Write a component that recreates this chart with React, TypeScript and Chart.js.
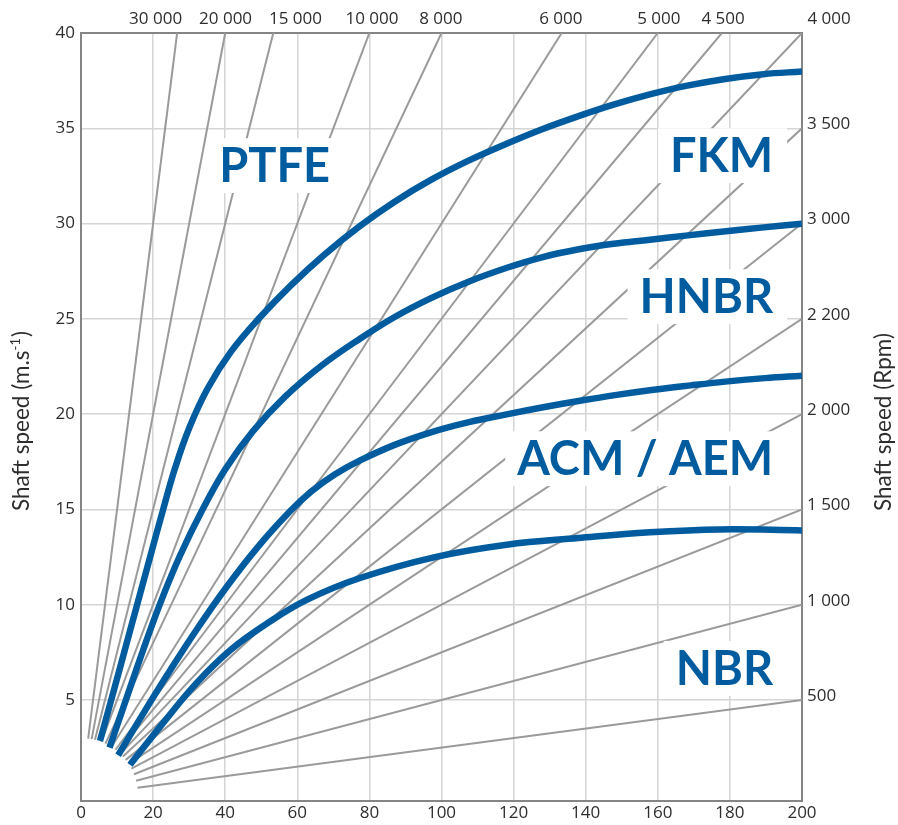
import React, { useEffect, useRef } from 'react';
import { Chart, registerables } from 'chart.js';

Chart.register(...registerables);

// ---------- data ----------
const xTicks = [0, 20, 40, 60, 80, 100, 120, 140, 160, 180, 200];
const yTicks = [5, 10, 15, 20, 25, 30, 35, 40];

// constant-rpm rays (schematic: v = d * n / 20000)
const rpmLines = [30000, 20000, 15000, 10000, 8000, 6000, 5000, 4500, 4000, 3500, 3000, 2500, 2000, 1500, 1000, 500];

// top axis (rpm labels of rays leaving through the top)
const topLabels = ['30 000', '20 000', '15 000', '10 000', '8 000', '6 000', '5 000', '4 500', '4 000'];
const topLabelPos = [20.7, 40.1, 59.5, 80.7, 99.8, 133.1, 160.3, 178.1, 207.5];

// right axis (rpm labels of rays leaving through the right edge)
const rightLabels = ['500', '1 000', '1 500', '2 000', '2 200', '3 000', '3 500'];
const rightLabelPos = [5, 10, 15, 20, 25, 30, 35];

// limit curves (x = shaft diameter, y = shaft speed m/s)
const curvePTFE = [
  { x: 5.27, y: 2.85 }, { x: 8.38, y: 5.0 }, { x: 11.96, y: 7.49 }, { x: 15.56, y: 9.99 },
  { x: 19.14, y: 12.48 }, { x: 22.75, y: 14.97 }, { x: 26.07, y: 17.16 }, { x: 30.1, y: 19.31 },
  { x: 35.2, y: 21.37 }, { x: 41.66, y: 23.29 }, { x: 49.4, y: 25.03 }, { x: 58.22, y: 26.76 },
  { x: 67.57, y: 28.38 }, { x: 77.42, y: 29.88 }, { x: 87.02, y: 31.15 }, { x: 97.06, y: 32.29 },
  { x: 107.49, y: 33.3 }, { x: 118.2, y: 34.2 }, { x: 127.91, y: 34.95 }, { x: 137.75, y: 35.62 },
  { x: 147.71, y: 36.24 }, { x: 157.78, y: 36.78 }, { x: 168.18, y: 37.24 }, { x: 178.7, y: 37.59 },
  { x: 189.29, y: 37.84 }, { x: 200, y: 37.98 },
];
const curveFKM = [
  { x: 7.91, y: 2.5 }, { x: 12.51, y: 5.03 }, { x: 17.12, y: 7.56 }, { x: 21.94, y: 10.06 },
  { x: 27.35, y: 12.53 }, { x: 33.54, y: 14.93 }, { x: 40.06, y: 17.12 }, { x: 47.77, y: 19.12 },
  { x: 56.7, y: 20.93 }, { x: 66.66, y: 22.54 }, { x: 77.39, y: 23.96 }, { x: 87.02, y: 25.1 },
  { x: 97.09, y: 26.09 }, { x: 107.49, y: 26.95 }, { x: 118.14, y: 27.68 }, { x: 127.85, y: 28.23 },
  { x: 137.73, y: 28.64 }, { x: 147.74, y: 28.94 }, { x: 157.82, y: 29.15 }, { x: 168.36, y: 29.38 },
  { x: 178.89, y: 29.6 }, { x: 189.43, y: 29.8 }, { x: 200, y: 29.99 },
];
const curveHNBR = [
  { x: 10.29, y: 2.1 }, { x: 17.42, y: 4.34 }, { x: 24.74, y: 6.56 }, { x: 32.29, y: 8.75 },
  { x: 40.22, y: 10.89 }, { x: 48.74, y: 12.96 }, { x: 57.98, y: 14.9 }, { x: 63.86, y: 15.94 },
  { x: 70.37, y: 16.83 }, { x: 77.42, y: 17.57 }, { x: 87.18, y: 18.4 }, { x: 97.28, y: 19.06 },
  { x: 107.6, y: 19.58 }, { x: 118.06, y: 19.99 }, { x: 128.21, y: 20.36 }, { x: 138.39, y: 20.7 },
  { x: 148.6, y: 21.01 }, { x: 158.83, y: 21.28 }, { x: 169.1, y: 21.51 }, { x: 179.39, y: 21.72 },
  { x: 189.68, y: 21.89 }, { x: 200, y: 22.02 },
];
const curveACM = [
  { x: 13.6, y: 1.6 }, { x: 22.8, y: 3.8 }, { x: 32.1, y: 5.9 }, { x: 41.3, y: 7.6 },
  { x: 51.5, y: 9.0 }, { x: 62.6, y: 10.25 }, { x: 77.4, y: 11.4 }, { x: 98.2, y: 12.5 },
  { x: 118.1, y: 13.15 }, { x: 137.9, y: 13.5 }, { x: 157.8, y: 13.8 }, { x: 177.3, y: 13.95 },
  { x: 200, y: 13.9 },
];

const materialNames = ['PTFE', 'FKM', 'HNBR', 'ACM / AEM', 'NBR'];

// ---------- styles / annotation placement ----------
const BLUE = '#005c9e';
const RAY = '#9a9a9a';
const GRID = '#d5d5d5';
const AXIS = '#858585';
const TEXT = '#2e2e2e';
const FONT = 'Lato, "Open Sans", sans-serif';
const TICK_FONT = '"Open Sans", Lato, sans-serif';

// anchor of each material label (data units): x, baseline y, alignment
const materialAnchors = [
  { x: 53.7, y: 32.18, align: 'center' },
  { x: 192.0, y: 32.7, align: 'right' },
  { x: 192.0, y: 25.3, align: 'right' },
  { x: 192.0, y: 16.8, align: 'right' },
  { x: 192.0, y: 5.8, align: 'right' },
];

const RAY_RX = 15.8; // inner radius of the ray fan (data units, x)
const RAY_RY = 3.0; // inner radius of the ray fan (data units, y)

function rayPoints(n: number) {
  const k = n / 20000;
  const x0 = 1 / Math.sqrt(1 / (RAY_RX * RAY_RX) + (k * k) / (RAY_RY * RAY_RY));
  const xEnd = Math.min(200, 40 / k);
  return [
    { x: x0, y: k * x0 },
    { x: xEnd, y: k * xEnd },
  ];
}

const labelsPlugin = {
  id: 'materialLabels',
  afterDatasetsDraw(chart: any) {
    const ctx = chart.ctx;
    const xs = chart.scales.x;
    const ys = chart.scales.y;
    ctx.save();
    const size = 47;
    ctx.font = `bold ${size}px ${FONT}`;
    ctx.textBaseline = 'alphabetic';
    const cap = size * 0.72;
    materialNames.forEach((name, i) => {
      const a = materialAnchors[i];
      const px = xs.getPixelForValue(a.x);
      const py = ys.getPixelForValue(a.y);
      const w = ctx.measureText(name).width;
      let left = px;
      if (a.align === 'center') left = px - w / 2;
      else if (a.align === 'right') left = px - w;
      ctx.fillStyle = '#ffffff';
      ctx.fillRect(left - 12, py - cap - 10, w + 26, cap + 21);
      ctx.fillStyle = BLUE;
      ctx.textAlign = 'left';
      ctx.fillText(name, left, py);
    });
    ctx.restore();
  },
  afterDraw(chart: any) {
    const ctx = chart.ctx;
    ctx.save();
    ctx.fillStyle = TEXT;
    ctx.textBaseline = 'middle';
    ctx.textAlign = 'left';
    // left title
    ctx.save();
    ctx.translate(22, 511);
    ctx.rotate(-Math.PI / 2);
    ctx.font = `22.5px ${FONT}`;
    const t1 = 'Shaft speed (m.s';
    ctx.fillText(t1, 0, 0);
    let x = ctx.measureText(t1).width;
    ctx.font = `13px ${FONT}`;
    ctx.fillText('-1', x, -6);
    x += ctx.measureText('-1').width + 1;
    ctx.font = `22.5px ${FONT}`;
    ctx.fillText(')', x, 0);
    ctx.restore();
    // right title
    ctx.save();
    ctx.translate(884, 511);
    ctx.rotate(-Math.PI / 2);
    ctx.font = `22.5px ${FONT}`;
    ctx.fillText('Shaft speed (Rpm)', 0, 0);
    ctx.restore();
    ctx.restore();
  },
};

export default function App() {
  const ref = useRef<HTMLCanvasElement | null>(null);

  useEffect(() => {
    if (!ref.current) return;
    const tickFont = { family: TICK_FONT, size: 17 };

    const curveDs = (data: any[]) => ({
      data,
      borderColor: BLUE,
      borderWidth: 6.5,
      borderCapStyle: 'butt',
      borderJoinStyle: 'round',
      pointRadius: 0,
      tension: 0.4,
      fill: false,
      order: 0,
      xAxisID: 'x',
      yAxisID: 'y',
    });

    const rayDs = rpmLines.map((n) => ({
      data: rayPoints(n),
      borderColor: RAY,
      borderWidth: 2,
      pointRadius: 0,
      tension: 0,
      fill: false,
      order: 1,
      xAxisID: 'x',
      yAxisID: 'y',
    }));

    const chart = new Chart(ref.current, {
      type: 'line',
      data: {
        datasets: [
          curveDs(curvePTFE),
          curveDs(curveFKM),
          curveDs(curveHNBR),
          curveDs(curveACM),
          ...rayDs,
        ] as any,
      },
      options: {
        animation: false,
        responsive: false,
        maintainAspectRatio: false,
        layout: { padding: 0 },
        plugins: { legend: { display: false }, tooltip: { enabled: false } },
        scales: {
          x: {
            type: 'linear',
            position: 'bottom',
            min: 0,
            max: 200,
            afterBuildTicks: (s: any) => {
              s.ticks = xTicks.map((v) => ({ value: v }));
            },
            afterFit: (s: any) => {
              s.height = 24;
            },
            grid: { color: GRID, lineWidth: 1.5, drawTicks: false },
            border: { color: AXIS, width: 2 },
            ticks: {
              font: tickFont,
              color: TEXT,
              padding: 2,
              maxRotation: 0,
              minRotation: 0,
              autoSkip: false,
              callback: (v: any) => String(v),
            },
          },
          x2: {
            type: 'linear',
            position: 'top',
            min: 0,
            max: 200,
            afterBuildTicks: (s: any) => {
              s.ticks = topLabelPos.map((v) => ({ value: v }));
            },
            afterFit: (s: any) => {
              s.height = 33;
            },
            grid: { display: false, drawTicks: false },
            border: { color: AXIS, width: 2 },
            ticks: {
              font: tickFont,
              color: TEXT,
              padding: 4,
              maxRotation: 0,
              minRotation: 0,
              autoSkip: false,
              callback: (_v: any, i: number) => topLabels[i],
            },
          },
          y: {
            type: 'linear',
            position: 'left',
            min: -0.3,
            max: 40,
            afterBuildTicks: (s: any) => {
              s.ticks = yTicks.map((v) => ({ value: v }));
            },
            afterFit: (s: any) => {
              s.width = 81;
            },
            grid: { color: GRID, lineWidth: 1.5, drawTicks: false },
            border: { color: AXIS, width: 2 },
            ticks: {
              font: tickFont,
              color: TEXT,
              padding: 6,
              autoSkip: false,
              callback: (v: any) => String(v),
            },
          },
          y2: {
            type: 'linear',
            position: 'right',
            min: -0.3,
            max: 40,
            afterBuildTicks: (s: any) => {
              s.ticks = rightLabelPos.map((v) => ({ value: v }));
            },
            afterFit: (s: any) => {
              s.width = 96;
            },
            grid: { display: false, drawTicks: false },
            border: { color: AXIS, width: 2 },
            ticks: {
              font: tickFont,
              color: TEXT,
              padding: 5,
              labelOffset: -4,
              autoSkip: false,
              callback: (_v: any, i: number) => rightLabels[i],
            },
          },
        },
      } as any,
      plugins: [labelsPlugin],
    });

    return () => chart.destroy();
  }, []);

  return (
    <div style={{ position: 'fixed', left: 0, top: 0, width: 898, height: 825, background: '#fff' }}>
      <canvas ref={ref} width={898} height={825} style={{ width: 898, height: 825, display: 'block' }} />
    </div>
  );
}
